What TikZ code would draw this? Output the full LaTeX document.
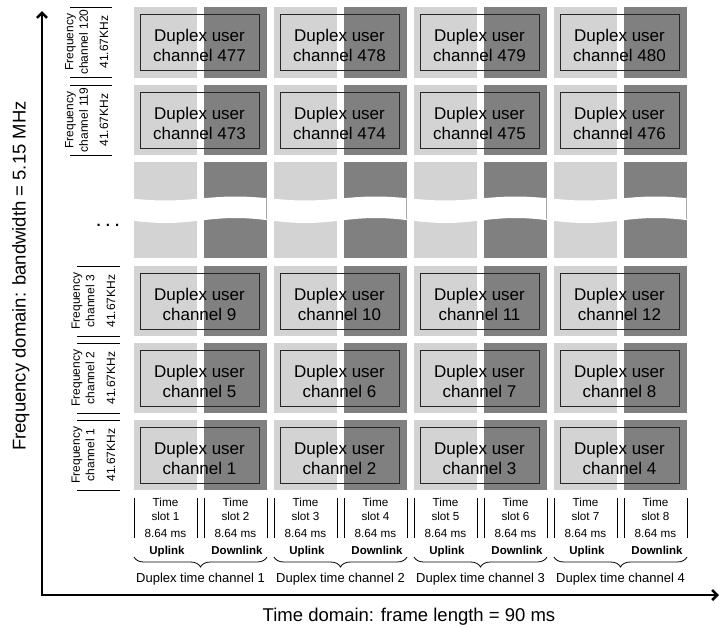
\documentclass[tikz,border=0pt]{standalone}
\usepackage{fontspec}
\setmainfont{Liberation Sans}
\usetikzlibrary{arrows.meta,decorations.pathreplacing}
\definecolor{lightcell}{RGB}{211,211,211}
\definecolor{darkcell}{RGB}{128,128,128}
\tikzset{
  ubox/.style={draw=black!85,line width=0.9pt,minimum width=119pt,minimum height=56pt,inner sep=0pt},
  utext/.style={align=center,inner sep=0pt,font=\fontsize{17}{20}\selectfont},
  flab/.style={rotate=90,align=center,inner sep=0pt,font=\fontsize{12}{14.5}\selectfont},
  slab/.style={anchor=base,inner sep=0pt,font=\fontsize{11.7}{13}\selectfont},
  blab/.style={anchor=base,inner sep=0pt,font=\fontsize{11.5}{13}\selectfont\bfseries},
  dlab/.style={anchor=base,inner sep=0pt,font=\fontsize{13}{15}\selectfont},
  thinbar/.style={black,line width=0.9pt},
  axisline/.style={black,line width=2.6pt,{Straight Barb[length=5pt,width=10pt]}-{Straight Barb[length=5pt,width=10pt]}},
  axlab/.style={inner sep=0pt,font=\fontsize{18.5}{22}\selectfont}
}
\begin{document}
\begin{tikzpicture}[x=1pt,y=-1pt]
\useasboundingbox (0,0) rectangle (721,627);
% cells
\foreach \g in {134,274,414,554}{
  \foreach \t/\h in {7/71,85/70,162/96,266/70,343/70,420/70}{
    \fill[lightcell] (\g,\t) rectangle ++(63,\h);
    \fill[darkcell] ({\g+70},\t) rectangle ++(63,\h);
  }
}
% wavy break
\fill[white] plot[domain=128:692,samples=140] (\x,{198.5+2*cos(2.5714*(\x-165.5))})
  -- plot[domain=692:128,samples=140] (\x,{220.5+2.5*cos(2.5714*(\x-165.5))}) -- cycle;
\foreach \g in {134,274,414,554}{
  \draw[black!35,line width=0.6pt] ({\g+132.6},197) -- ({\g+132.6},219);
}
% user channel boxes
\foreach \t/\n [count=\r] in {420/1,343/5,266/9,85/473,7/477}{
  \foreach \g [count=\c from 0] in {134,274,414,554}{
    \pgfmathtruncatemacro\num{\n+\c}
    \node[ubox] (u\r-\c) at ({\g+65.5},{\t+35}) {};
    \node[utext] (ut\r-\c) at ([yshift=-3pt]u\r-\c.center) {Duplex user\\channel \num};
  }
}
% frequency labels
\foreach \t/\ch/\xa/\xb/\xl/\xr [count=\r] in {420/1/83/111/77/120,343/2/83/111/77/120,266/3/83/111/77/120,85/119/76.5/104/70/112,7/120/76.5/104/70/112}{
  \node[flab] (f\r) at (\xa,{\t+35}) {Frequency\\channel \ch};
  \node[flab] (k\r) at (\xb,{\t+35}) {41.67KHz};
  \draw[thinbar] (\xl,{\t+0.5}) -- (\xr,{\t+0.5});
  \draw[thinbar] (\xl,{\t+70}) -- (\xr,{\t+70});
}
\node[inner sep=0pt,font=\fontsize{15}{15}\selectfont\bfseries] (dots) at (108,225) {.\hspace{5pt}.\hspace{5pt}.};
% time slot labels
\foreach \i in {1,...,8}{
  \pgfmathsetmacro\edge{134+140*floor((\i-1)/2)+70*mod(\i-1,2)}
  \pgfmathsetmacro\cx{\edge+31.5}
  \draw[thinbar] (\edge,498) -- (\edge,538);
  \draw[thinbar] ({\edge+63},498) -- ({\edge+63},538);
  \node[slab] (ts\i) at (\cx,506) {Time};
  \node[slab] (sl\i) at (\cx,520) {slot \i};
  \node[slab] (ms\i) at (\cx,537) {8.64 ms};
}
\foreach \g [count=\c] in {134,274,414,554}{
  \node[blab] (up\c) at ({\g+33},554) {Uplink};
  \node[blab] (dn\c) at ({\g+103},554) {Downlink};
  \coordinate (bl\c) at (\g,557);
  \coordinate (br\c) at ({\g+133},557);
  \draw[black,line width=0.8pt,decorate,decoration={brace,mirror,amplitude=10pt}] (bl\c) -- (br\c);
  \node[dlab] (dt\c) at ({\g+66.5},582) {Duplex time channel \c};
}
% axes
\coordinate (origin) at (42,595);
\coordinate (ytip) at (42,11);
\coordinate (xtip) at (719,595);
\draw[axisline] (ytip) -- (origin) -- (xtip);
\node[axlab,rotate=90,anchor=base] (ylab) at (25.5,276) {Frequency domain: bandwidth = 5.15 MHz};
\node[axlab,anchor=base] (xlab) at (409,621) {Time domain: frame length = 90 ms};
\end{tikzpicture}
\end{document}
